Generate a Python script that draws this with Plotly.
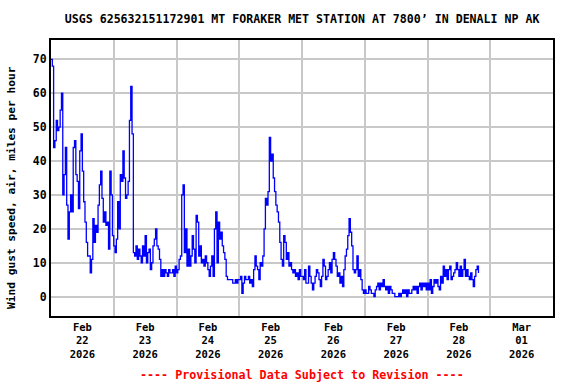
import pandas as pd
import plotly.graph_objects as go

# Wind gust speed (mph), half-hourly readings, by day
feb22 = [70, 68, 44, 46, 52, 49, 50, 55, 60, 30, 36, 44, 27, 17, 25, 30,
         25, 44, 46, 36, 34, 26, 43, 48, 37, 28, 22, 16, 12, 12, 7, 11,
         23, 16, 21, 19, 27, 33, 37, 29, 22, 25, 21, 22, 14, 37, 30, 18]
feb23 = [15, 13, 17, 28, 20, 36, 34, 43, 35, 29, 30, 34, 52, 62, 48, 13,
         12, 15, 11, 14, 12, 10, 15, 12, 18, 10, 13, 14, 8, 10, 15, 17,
         20, 15, 14, 11, 6, 8, 6, 8, 7, 6, 8, 7, 7, 8, 6, 9]
feb24 = [7, 8, 11, 12, 30, 33, 13, 20, 9, 14, 9, 12, 18, 14, 10, 24,
         22, 12, 15, 10, 11, 9, 12, 10, 8, 6, 9, 12, 6, 20, 25, 10,
         22, 17, 19, 15, 13, 11, 6, 5, 5, 5, 5, 4, 4, 5, 4, 5]
feb25 = [5, 6, 1, 4, 6, 5, 5, 6, 4, 5, 3, 8, 12, 9, 8, 5,
         10, 9, 12, 20, 29, 27, 31, 47, 40, 42, 35, 31, 27, 25, 22, 16,
         11, 9, 18, 16, 11, 13, 9, 10, 8, 7, 8, 6, 7, 5, 8, 6]
feb26 = [6, 5, 8, 4, 4, 9, 6, 4, 2, 4, 6, 8, 7, 5, 3, 6,
         11, 9, 5, 6, 8, 10, 7, 11, 13, 11, 9, 6, 7, 4, 6, 3,
         8, 12, 14, 18, 23, 19, 15, 8, 7, 8, 12, 6, 8, 5, 2, 1]
feb27 = [2, 1, 1, 3, 2, 1, 1, 0, 2, 3, 4, 2, 4, 3, 5, 3,
         2, 3, 1, 3, 2, 1, 1, 0, 0, 0, 1, 0, 1, 2, 1, 2,
         0, 2, 1, 1, 2, 3, 2, 3, 1, 3, 4, 2, 4, 3, 4, 2]
feb28 = [4, 2, 5, 1, 3, 5, 4, 5, 3, 2, 6, 4, 9, 6, 8, 5,
         8, 9, 5, 6, 7, 8, 10, 8, 6, 9, 6, 8, 11, 6, 8, 6,
         5, 7, 5, 3, 6, 8, 9, 7]

gust = feb22 + feb23 + feb24 + feb25 + feb26 + feb27 + feb28
times = pd.date_range("2026-02-22 00:00", periods=len(gust), freq="30min")

tick_days = ["2026-02-22", "2026-02-23", "2026-02-24", "2026-02-25",
             "2026-02-26", "2026-02-27", "2026-02-28", "2026-03-01"]
tick_text = ["Feb<br>22<br>2026", "Feb<br>23<br>2026", "Feb<br>24<br>2026",
             "Feb<br>25<br>2026", "Feb<br>26<br>2026", "Feb<br>27<br>2026",
             "Feb<br>28<br>2026", "Mar<br>01<br>2026"]
tick_vals = [pd.Timestamp(d) + pd.Timedelta(hours=12) for d in tick_days]
y_ticks = [0, 10, 20, 30, 40, 50, 60, 70]

FONT = "DejaVu Sans Mono"

fig = go.Figure()
fig.add_trace(go.Scatter(x=times, y=gust, mode="lines", line_shape="hv",
                         line=dict(color="#0000FF", width=1.3),
                         hoverinfo="x+y", showlegend=False))

fig.update_layout(
    width=576, height=384,
    margin=dict(l=51, r=23, t=40, b=68),
    paper_bgcolor="white", plot_bgcolor="white",
    font=dict(family=FONT, color="black", size=11),
    title=dict(text="<b>USGS 625632151172901 MT FORAKER MET STATION AT 7800’ IN DENALI NP AK</b>",
               x=0.5245, xanchor="center", y=0.95, yanchor="middle",
               font=dict(family=FONT, size=11.6, color="black")),
    xaxis=dict(
        type="date",
        range=["2026-02-22 00:00", "2026-03-02 00:00"],
        tickvals=tick_vals, ticktext=["<b>" + t.replace("<br>", "</b><br><b>") + "</b>" for t in tick_text],
        tickfont=dict(family=FONT, size=10.5, color="black"),
        ticks="", showgrid=False,
        minor=dict(dtick=86400000, tick0="2026-02-22", showgrid=True,
                   gridcolor="#C8C8C8", gridwidth=1.5, ticks=""),
        showline=True, linecolor="black", linewidth=2, mirror=True,
        zeroline=False,
    ),
    yaxis=dict(
        range=[-5.7, 75.7],
        tickvals=y_ticks, ticktext=["<b>%d</b>" % v for v in y_ticks],
        tickfont=dict(family=FONT, size=11.5, color="black"),
        ticks="", showgrid=True, gridcolor="#C8C8C8", gridwidth=1.5,
        showline=True, linecolor="black", linewidth=2, mirror=True,
        zeroline=False,
    ),
)

fig.add_annotation(text="<b>Wind gust speed, air, miles per hour</b>",
                   xref="paper", yref="paper", x=-39 / 502, y=(316 - 188) / 276,
                   xanchor="center", yanchor="middle", textangle=-90, showarrow=False,
                   font=dict(family=FONT, size=11.2, color="black"))

fig.add_annotation(text="<b>---- Provisional Data Subject to Revision ----</b>",
                   xref="paper", yref="paper", x=0.5, y=-0.213,
                   xanchor="center", yanchor="middle", showarrow=False,
                   font=dict(family=FONT, size=11.7, color="#FF0000"))

fig.write_html("out.html")
